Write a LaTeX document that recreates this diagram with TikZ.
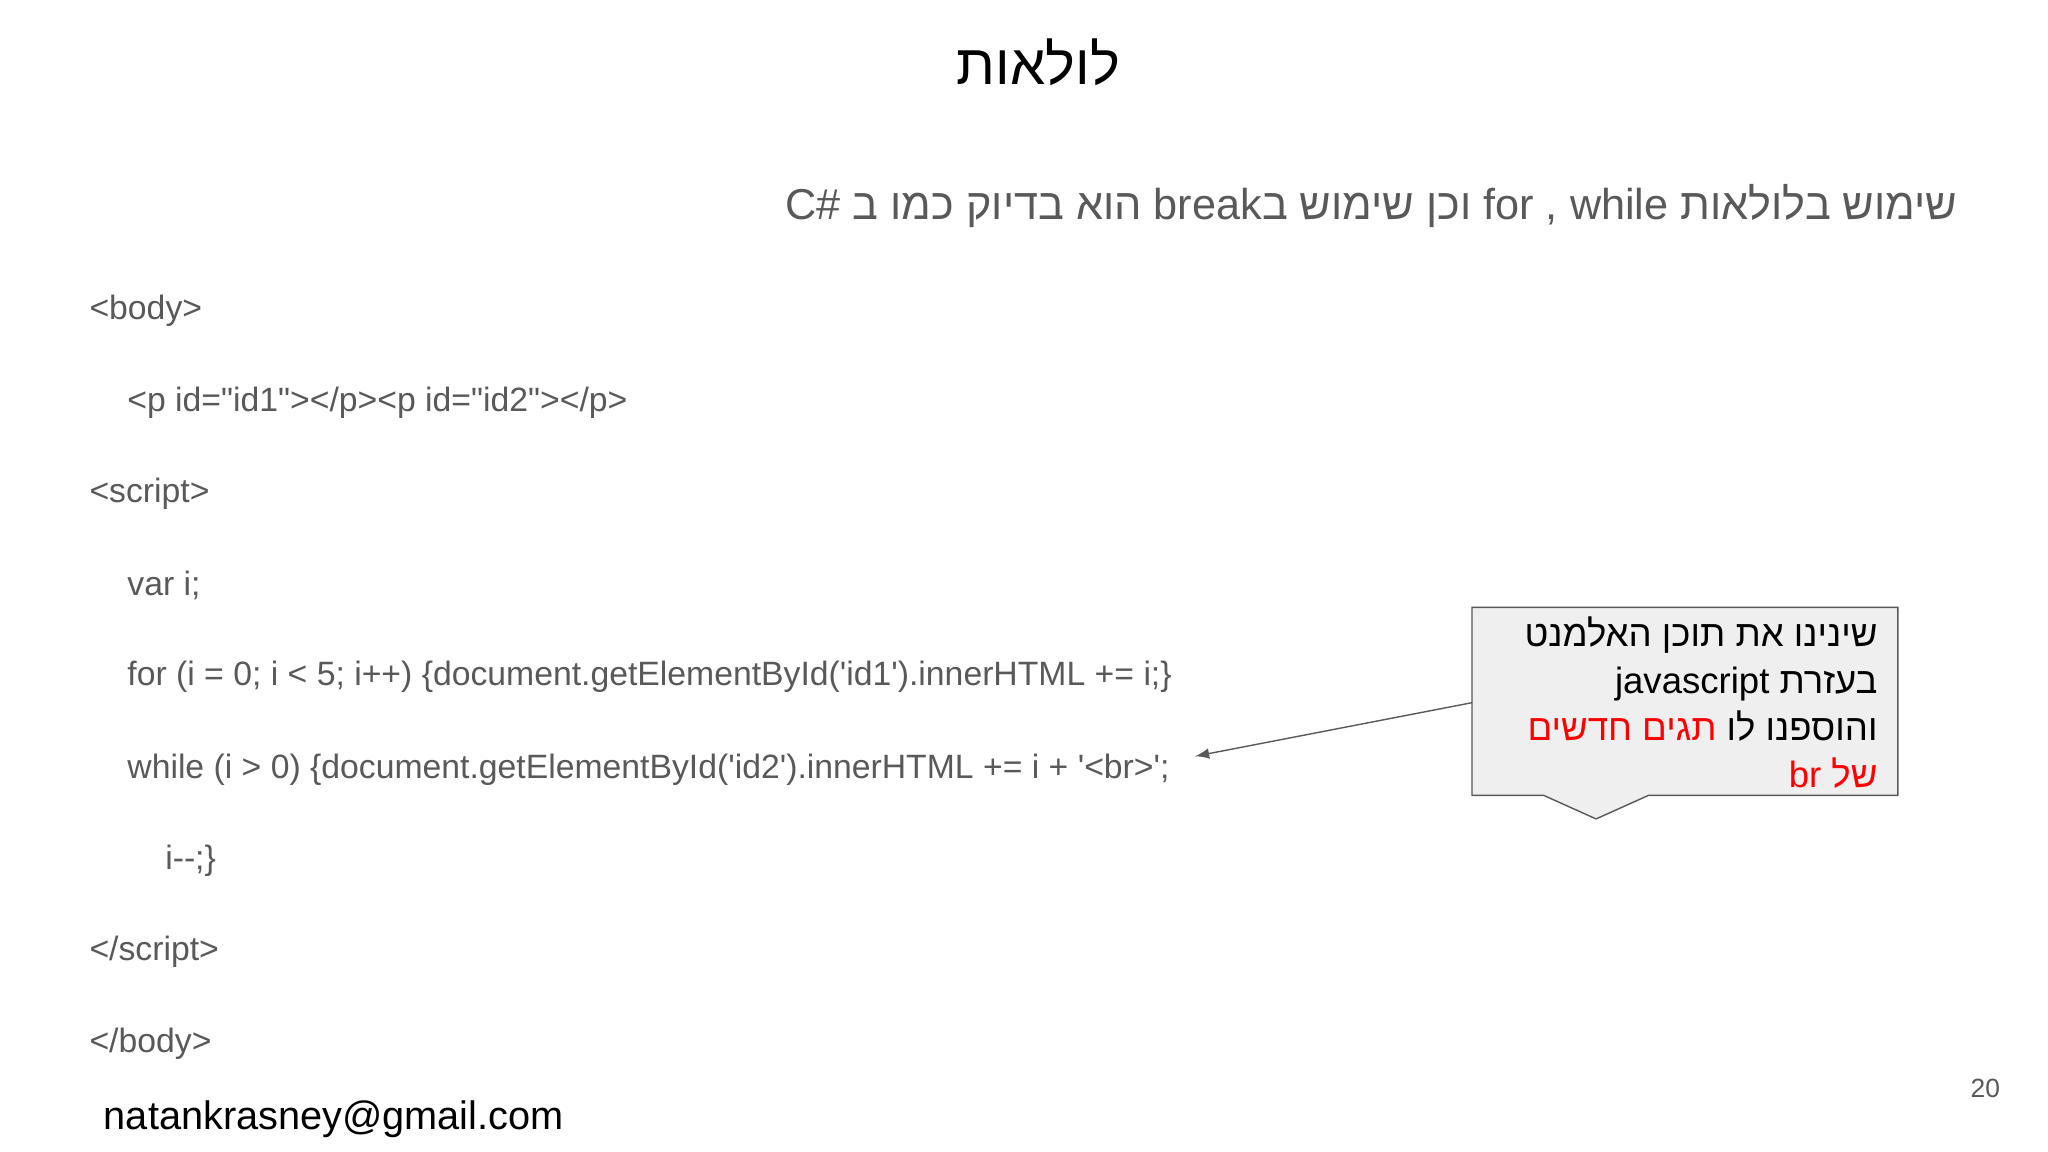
\documentclass[tikz,border=0pt]{standalone}
\usepackage{fontspec}
\setmainfont{Liberation Sans}
\newfontfamily\heb[Script=Hebrew]{Liberation Sans}
\newfontfamily\codefont{Liberation Sans}
\TeXXeTstate=1
\definecolor{codegray}{HTML}{595959}
\definecolor{boxfill}{HTML}{EFEFEF}
\definecolor{boxline}{HTML}{595959}
\tikzset{
  code/.style={anchor=west,inner sep=0pt,text=codegray,font=\codefont\fontsize{9.6pt}{11pt}\selectfont},
  hebtxt/.style={inner sep=0pt,font=\heb},
  calltxt/.style={anchor=base east,inner sep=0pt,font=\heb\fontsize{10.4pt}{13.6pt}\selectfont},
}
\begin{document}
\begin{tikzpicture}[x=0.0130612cm,y=-0.0130612cm]
\useasboundingbox (0,0) rectangle (1568,882);
\node[hebtxt,font=\heb\fontsize{16pt}{18pt}\selectfont] (title) at (795,48) {\beginR לולאות\endR};
\node[hebtxt,anchor=east,text=codegray,font=\heb\fontsize{12.3pt}{14pt}\selectfont] (sub) at (1499,158)
 {\beginR שימוש בלולאות \beginL for , while\endL{} וכן שימוש ב\beginL break\endL{} הוא בדיוק כמו ב \beginL C\#\endL\endR};
\node[code] (l1) at (68,238) {<body>};
\node[code] (l2) at (97,308) {<p id="id1"></p><p id="id2"></p>};
\node[code] (l3) at (68,378) {<script>};
\node[code] (l4) at (97,448) {var i;};
\node[code] (l5) at (97,518) {for (i = 0; i < 5; i++) \{document.getElementById('id1').innerHTML += i;\}};
\node[code] (l6) at (97,589) {while (i > 0) \{document.getElementById('id2').innerHTML += i + '<br>';};
\node[code] (l7) at (126,659) {i--;\}};
\node[code] (l8) at (68,729) {</script>};
\node[code] (l9) at (68,799) {</body>};
\node[anchor=west,inner sep=0pt,font=\fontsize{11.3pt}{13pt}\selectfont] (mail) at (79,857) {natankrasney@gmail.com};
\node[inner sep=0pt,text=codegray,font=\fontsize{7.5pt}{9pt}\selectfont] (pg) at (1520,833) {20};
\draw[boxline,fill=boxfill] (1127,465) -- (1453,465) -- (1453,609) -- (1262,609) -- (1222,627) -- (1182,609) -- (1127,609) -- cycle;
\coordinate (box) at (1127,538);
\coordinate (tip) at (915,579);
\draw[boxline,-latex] (box) -- (tip);
\node[calltxt] (c1) at (1438,495) {\beginR שינינו את תוכן האלמנט\endR};
\node[calltxt] (c2) at (1438,531) {\beginR בעזרת \beginL javascript\endL\endR};
\node[calltxt] (c3) at (1438,567) {\beginR והוספנו לו\endR};
\node[calltxt,text=red,xshift=-2.5pt] (c3r) at (c3.base west) {\beginR תגים חדשים\endR};
\node[calltxt,text=red] (c4) at (1438,603) {\beginR של \beginL br\endL\endR};
\end{tikzpicture}
\end{document}
